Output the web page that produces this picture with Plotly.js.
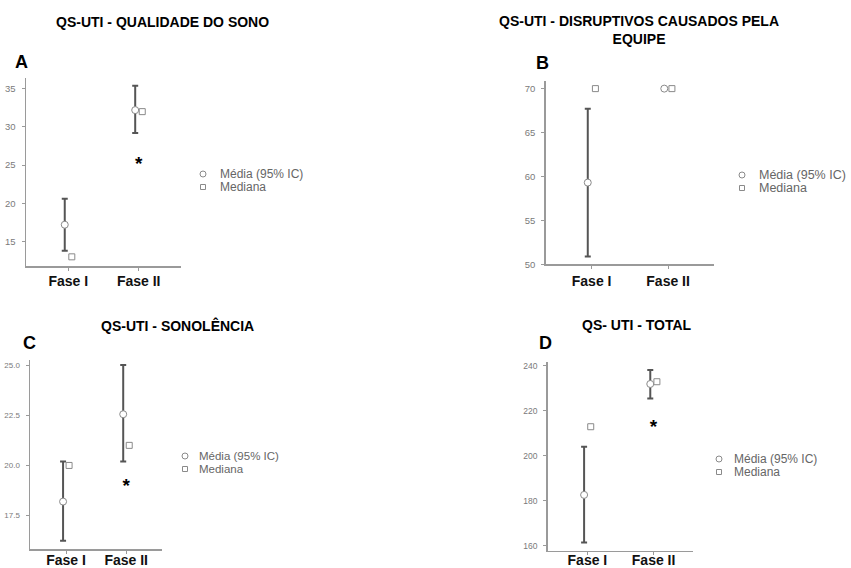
<!DOCTYPE html>
<html>
<head>
<meta charset="utf-8">
<script src="https://cdn.plot.ly/plotly-3.0.1.min.js"></script>
<style>html,body{margin:0;padding:0;background:#fff;}#chart{width:851px;height:568px;}</style>
</head>
<body>
<div id="chart"></div>
<script>
// ---- data ----
const categories = ['Fase I', 'Fase II'];
const legendLabels = ['Média (95% IC)', 'Mediana'];

const titles = ['QS-UTI - QUALIDADE DO SONO', 'QS-UTI - DISRUPTIVOS CAUSADOS PELA<br>EQUIPE', 'QS-UTI - SONOLÊNCIA', 'QS- UTI - TOTAL'];
const letters = ['A', 'B', 'C', 'D'];

// Panel A - Qualidade do sono
const meanA = [17.2, 32.2];
const lowA = [13.8, 29.2];
const highA = [20.6, 35.4];
const medA = [13, 32];
const starA = [null, 25.0];

// Panel B - Disruptivos causados pela equipe
const meanB = [59.3, 70];
const lowB = [50.9, 70];
const highB = [67.7, 70];
const medB = [70, 70];
const starB = [null, null];

// Panel C - Sonolência
const meanC = [18.2, 22.55];
const lowC = [16.25, 20.2];
const highC = [20.2, 25.0];
const medC = [20, 21];
const starC = [null, 18.9];

// Panel D - Total
const meanD = [182.7, 232];
const lowD = [161.5, 225.6];
const highD = [204.1, 238.2];
const medD = [213, 233];
const starD = [null, 212.3];

// ---- layout config ----
const W = 851, H = 568;
const panels = [
  {mean: meanA, low: lowA, high: highA, med: medA, star: starA, dom: [26, 181, 78, 266], yr: [11.8, 36.4], tv: [15, 20, 25, 30, 35], fmt: 'd', tsize: 9.5, xso: -1,
   title: [162, 22], letter: [21.5, 62], leg: [203, 174, 218, 12]},
  {mean: meanB, low: lowB, high: highB, med: medB, star: starB, dom: [545.7, 714, 80.7, 264.3], yr: [50, 70.9], tv: [50, 55, 60, 65, 70], fmt: 'd', tsize: 9.5, xso: 0,
   title: [639, 29.5], letter: [542.5, 63], leg: [742, 175, 757, 12.5]},
  {mean: meanC, low: lowC, high: highC, med: medC, star: starC, dom: [30, 162.3, 360, 549], yr: [15.84, 25.25], tv: [17.5, 20, 22.5, 25], fmt: '.1f', tsize: 8, xso: -5,
   title: [177.5, 325], letter: [29.5, 343], leg: [185, 456, 197, 11.5]},
  {mean: meanD, low: lowD, high: highD, med: medD, star: starD, dom: [547.7, 693.3, 361.7, 550.7], yr: [157.9, 241.9], tv: [160, 180, 200, 220, 240], fmt: 'd', tsize: 8.5, xso: -7,
   title: [636.7, 325], letter: [545.5, 343], leg: [719, 459, 732, 12]}
];

const dodge = 0.05;
const FONT = 'Liberation Sans, Arial, sans-serif';
const traces = [];
const layout = {
  width: W, height: H,
  margin: {l: 0, r: 0, t: 0, b: 0},
  paper_bgcolor: '#fff', plot_bgcolor: '#fff',
  showlegend: false,
  font: {family: FONT},
  annotations: [], shapes: []
};

panels.forEach((p, k) => {
  const sfx = k === 0 ? '' : String(k + 1);
  const xa = 'x' + sfx, ya = 'y' + sfx;
  const idx = categories.map((c, i) => i);

  traces.push({
    type: 'scatter', mode: 'markers', xaxis: xa, yaxis: ya,
    x: idx.map(i => i - dodge), y: p.mean,
    error_y: {type: 'data', symmetric: false,
      array: p.mean.map((m, i) => p.high[i] - m),
      arrayminus: p.mean.map((m, i) => m - p.low[i]),
      color: '#555', thickness: 2, width: 3},
    marker: {symbol: 'circle', size: 7, color: '#fff', line: {color: '#8a8a8a', width: 1}},
    name: legendLabels[0], hoverinfo: 'skip'
  });
  traces.push({
    type: 'scatter', mode: 'markers', xaxis: xa, yaxis: ya,
    x: idx.map(i => i + dodge), y: p.med,
    marker: {symbol: 'square', size: 6, color: '#fff', line: {color: '#8a8a8a', width: 1}},
    name: legendLabels[1], hoverinfo: 'skip'
  });
  traces.push({
    type: 'scatter', mode: 'text', xaxis: xa, yaxis: ya,
    x: idx, y: p.star, text: p.star.map(v => v == null ? '' : '*'),
    textposition: 'middle center',
    textfont: {size: 19, color: '#000', family: FONT, weight: 'bold'},
    hoverinfo: 'skip'
  });

  const d = p.dom;
  layout['xaxis' + sfx] = {
    domain: [d[0] / W, d[1] / W], anchor: ya,
    range: [-0.6, 1.6], tickvals: idx, ticktext: categories,
    showline: true, linecolor: '#9a9a9a', linewidth: 1.5,
    ticks: 'outside', ticklen: 3, tickcolor: '#9a9a9a', tickwidth: 1,
    showgrid: false, zeroline: false, fixedrange: true,
    ticklabelstandoff: p.xso,
    tickfont: {family: FONT, size: 14, color: '#111', weight: 'bold'}
  };
  layout['yaxis' + sfx] = {
    domain: [1 - d[3] / H, 1 - d[2] / H], anchor: xa,
    range: p.yr, tickvals: p.tv, tickformat: p.fmt,
    showline: true, linecolor: '#9a9a9a', linewidth: 1.5,
    ticks: 'outside', ticklen: 3, tickcolor: '#9a9a9a', tickwidth: 1,
    showgrid: false, zeroline: false, fixedrange: true,
    ticklabelstandoff: 4,
    tickfont: {family: FONT, size: p.tsize, color: '#7a7a7a'}
  };

  layout.annotations.push({
    xref: 'paper', yref: 'paper', x: p.title[0] / W, y: 1 - p.title[1] / H,
    xanchor: 'center', yanchor: 'middle', showarrow: false, text: '<b>' + titles[k] + '</b>',
    font: {family: FONT, size: 14, color: '#000'}
  });
  layout.annotations.push({
    xref: 'paper', yref: 'paper', x: p.letter[0] / W, y: 1 - p.letter[1] / H,
    xanchor: 'center', yanchor: 'middle', showarrow: false, text: '<b>' + letters[k] + '</b>',
    font: {family: FONT, size: 18, color: '#000'}
  });
  // legend (symbol shapes + text)
  const L = p.leg;
  legendLabels.forEach((lab, j) => {
    const cy = L[1] + j * 13;
    layout.shapes.push({
      type: j === 0 ? 'circle' : 'rect', xref: 'paper', yref: 'paper',
      xsizemode: 'pixel', ysizemode: 'pixel',
      xanchor: L[0] / W, yanchor: 1 - cy / H,
      x0: j === 0 ? -3 : -2.5, x1: j === 0 ? 3 : 2.5, y0: j === 0 ? -3 : -2.5, y1: j === 0 ? 3 : 2.5,
      line: {color: '#8a8a8a', width: 1}, fillcolor: '#fff'
    });
    layout.annotations.push({
      xref: 'paper', yref: 'paper', x: L[2] / W, y: 1 - cy / H,
      xanchor: 'left', yanchor: 'middle', showarrow: false, text: lab,
      font: {family: FONT, size: L[3], color: '#666'}
    });
  });
});

Plotly.newPlot('chart', traces, layout, {displayModeBar: false, staticPlot: true});
</script>
</body>
</html>
